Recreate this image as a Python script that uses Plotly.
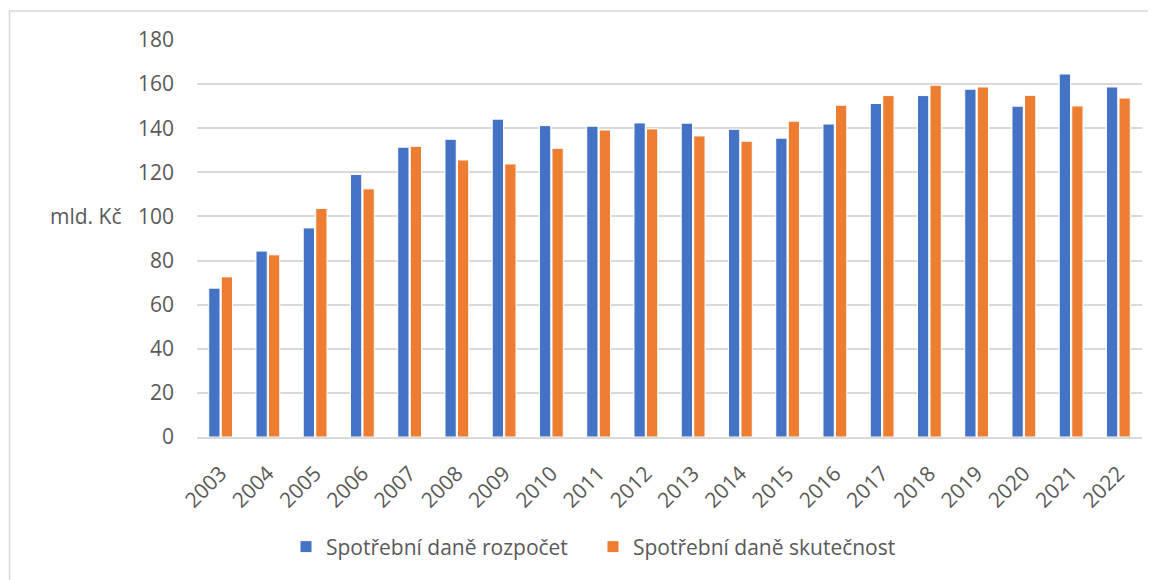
import plotly.graph_objects as go

years = [str(y) for y in range(2003, 2023)]
rozpocet = [67.5, 84.3, 94.8, 119.0, 131.4, 135.0, 144.1, 141.2, 140.9, 142.4,
            142.3, 139.5, 135.5, 141.9, 151.2, 154.8, 157.7, 150.0, 164.6, 158.7]
skutecnost = [72.6, 82.6, 103.6, 112.5, 131.8, 125.6, 123.8, 130.9, 139.2, 139.7,
              136.5, 134.1, 143.2, 150.4, 154.8, 159.5, 158.7, 154.9, 150.1, 153.7]
y_ticks = list(range(0, 181, 20))

FONT = "Open Sans"
GRAY = "#595959"
FS = 21

fig = go.Figure()
fig.add_trace(go.Bar(x=years, y=rozpocet, name="Spotřební daně rozpočet",
                     marker=dict(color="#4472C4", line=dict(color="white", width=1))))
fig.add_trace(go.Bar(x=years, y=skutecnost, name="Spotřební daně skutečnost",
                     marker=dict(color="#ED7D31", line=dict(color="white", width=1))))

OFF = 8  # page body margin
W, H = 1156 - OFF, 580 - OFF
L, T = 197 - OFF, 40 - OFF
R = W - (1142 - OFF)
B = H - (437 - OFF)
pw, ph = W - L - R, H - T - B

def px(x):  # page pixel -> paper
    return (x - OFF - L) / pw

def py(y):
    return (H - B - (y - OFF)) / ph

fig.update_layout(
    width=W, height=H,
    margin=dict(l=L, r=R, t=T, b=B, pad=0, autoexpand=False),
    paper_bgcolor="white", plot_bgcolor="white",
    barmode="group", bargap=0.47, bargroupgap=0.1,
    font=dict(family=FONT, size=FS, color=GRAY),
    showlegend=True,
    legend=dict(orientation="h", x=px(593), xanchor="center", y=py(547), yanchor="middle",
                font=dict(family=FONT, size=FS, color=GRAY), itemwidth=30,
                entrywidth=262, bgcolor="rgba(0,0,0,0)"),
    xaxis=dict(type="category", tickangle=-45, showgrid=False, showline=True,
               linecolor="#d9d9d9", linewidth=2, ticks="", ticklabelstandoff=14,
               automargin=False,
               tickfont=dict(family=FONT, size=FS, color=GRAY)),
    yaxis=dict(range=[0, 180], tickvals=y_ticks, showgrid=True, gridcolor="#d9d9d9",
               gridwidth=1.5, zeroline=False, showline=False, ticks="",
               automargin=False,
               ticklabelstandoff=22, tickfont=dict(family=FONT, size=FS, color=GRAY)),
    annotations=[dict(text="mld. Kč", xref="paper", yref="paper", x=px(85), y=py(216),
                      xanchor="center", yanchor="middle", showarrow=False,
                      font=dict(family=FONT, size=FS, color=GRAY))],
    shapes=[dict(type="rect", xref="paper", yref="paper",
                 x0=px(9.5), x1=px(1170), y0=py(11), y1=py(600),
                 line=dict(color="#d9d9d9", width=1.5), fillcolor="rgba(0,0,0,0)",
                 layer="below")],
)

fig.write_html("out.html")
